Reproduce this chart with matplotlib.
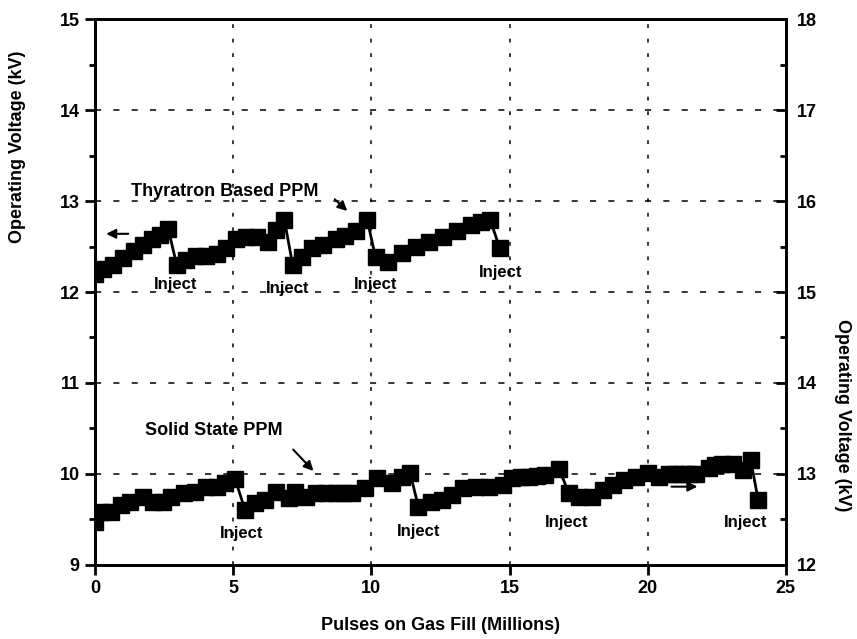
import numpy as np
import matplotlib
matplotlib.use("Agg")
import matplotlib.pyplot as plt

plt.rcParams["font.family"] = ["Liberation Sans", "DejaVu Sans"]

# Thyratron based PPM (left axis, kV)
thy_pulses = [0.0, 0.3, 0.65, 1.0, 1.4, 1.75, 2.05, 2.35, 2.65,
              2.95, 3.3, 3.65, 4.0, 4.4, 4.75, 5.1, 5.45, 5.85, 6.25, 6.55, 6.85,
              7.15, 7.5, 7.85, 8.25, 8.7, 9.05, 9.45, 9.85,
              10.15, 10.6, 11.1, 11.6, 12.1, 12.6, 13.1, 13.6, 13.95, 14.3, 14.65]
thy_kv = [12.20, 12.25, 12.30, 12.37, 12.45, 12.52, 12.58, 12.63, 12.69,
          12.30, 12.35, 12.40, 12.40, 12.42, 12.48, 12.58, 12.60, 12.60, 12.55, 12.68, 12.79,
          12.30, 12.38, 12.48, 12.52, 12.58, 12.62, 12.67, 12.79,
          12.38, 12.33, 12.43, 12.50, 12.55, 12.60, 12.67, 12.74, 12.77, 12.79, 12.48]

# Solid state PPM (right axis, kV)
ss_pulses = [0.0, 0.2, 0.58, 0.95, 1.27, 1.74, 2.1, 2.46, 2.75, 3.2, 3.6, 4.0, 4.4, 4.7, 5.07,
             5.43, 5.8, 6.16, 6.56, 7.0, 7.25, 7.65, 8.0, 8.35, 8.7, 9.0, 9.3, 9.78, 10.2, 10.75, 11.1, 11.4,
             11.7, 12.14, 12.57, 12.93, 13.3, 13.77, 14.24, 14.75, 15.1, 15.4, 15.7, 16.0, 16.3, 16.8,
             17.14, 17.5, 18.0, 18.37, 18.73, 19.13, 19.56, 20.0, 20.4, 20.76, 21.0, 21.27, 21.5, 21.74,
             22.2, 22.45, 22.7, 23.1, 23.44, 23.73, 24.0]
ss_kv = [12.47, 12.58, 12.58, 12.66, 12.69, 12.75, 12.69, 12.69, 12.75, 12.79, 12.80, 12.86, 12.86, 12.90, 12.94,
         12.60, 12.68, 12.71, 12.80, 12.74, 12.80, 12.75, 12.79, 12.79, 12.79, 12.79, 12.79, 12.84, 12.96, 12.90, 12.97, 13.01,
         12.64, 12.69, 12.71, 12.77, 12.84, 12.86, 12.86, 12.88, 12.96, 12.97, 12.97, 12.98, 12.99, 13.05,
         12.79, 12.75, 12.75, 12.82, 12.88, 12.93, 12.97, 13.01, 12.97, 13.00, 13.00, 13.00, 13.00, 13.00,
         13.07, 13.10, 13.11, 13.11, 13.04, 13.15, 12.71]

thy_inject = [(2.9, 12.08), (6.96, 12.04), (10.14, 12.08), (14.67, 12.22)]
ss_inject = [(5.29, 9.35), (11.7, 9.37), (17.07, 9.47), (23.55, 9.47)]

fig = plt.figure(figsize=(8.57, 6.39), dpi=100)
ax = fig.add_axes([0.111, 0.116, 0.806, 0.854])
ax2 = ax.twinx()

ax.plot(thy_pulses, thy_kv, color="k", lw=2, marker="s", ms=11, mec="k", mfc="k")
ax2.plot(ss_pulses, ss_kv, color="k", lw=2, marker="s", ms=11, mec="k", mfc="k")

ax.set_xlim(0, 25)
ax.set_ylim(9, 15)
ax2.set_ylim(12, 18)
ax.set_xticks(np.arange(0, 26, 5))
ax.set_yticks(np.arange(9, 16, 1))
ax.set_yticks(np.arange(9.5, 15, 1), minor=True)
ax2.set_yticks(np.arange(12, 19, 1))
ax2.set_yticks(np.arange(12.5, 18, 1), minor=True)

# dashed grid at the interior ticks
for gx in [5, 10, 15, 20]:
    ax.axvline(gx, color="k", lw=1.1, ls=(0, (2.5, 7)), zorder=0)
for gy in [10, 11, 12, 13, 14]:
    ax.axhline(gy, color="k", lw=1.1, ls=(0, (4, 8)), zorder=0)

for a in (ax, ax2):
    for s in a.spines.values():
        s.set_linewidth(2)
ax.tick_params(axis="both", which="major", direction="out", length=7, width=2, labelsize=13, pad=4)
ax.tick_params(axis="y", which="minor", direction="out", length=4, width=2)
ax2.tick_params(axis="y", which="major", direction="in", length=7, width=2, labelsize=13, pad=8)
ax2.tick_params(axis="y", which="minor", direction="in", length=4, width=2)
for lab in ax.get_xticklabels() + ax.get_yticklabels() + ax2.get_yticklabels():
    lab.set_fontweight("bold")

ax.set_xlabel("Pulses on Gas Fill (Millions)", fontsize=13, fontweight="bold", labelpad=14)
fig.text(0.021, 0.77, "Operating Voltage (kV)", rotation=90, ha="center", va="center",
         fontsize=13, fontweight="bold")
fig.text(0.983, 0.35, "Operating Voltage (kV)", rotation=-90, ha="center", va="center",
         fontsize=13, fontweight="bold")

for x, y in thy_inject + ss_inject:
    ax.text(x, y, "Inject", ha="center", va="center", fontsize=12, fontweight="bold")

ax.text(4.7, 13.11, "Thyratron Based PPM", ha="center", va="center", fontsize=13, fontweight="bold")
ax.text(4.28, 10.48, "Solid State PPM", ha="center", va="center", fontsize=13, fontweight="bold")

arrow = dict(arrowstyle="-|>", color="k", lw=1.5, mutation_scale=14)
ax.annotate("", xy=(9.2, 12.87), xytext=(8.6, 13.04), arrowprops=arrow)
ax.annotate("", xy=(7.97, 10.01), xytext=(7.1, 10.29), arrowprops=arrow)
ax.annotate("", xy=(0.3, 12.64), xytext=(1.3, 12.64), arrowprops=arrow)
ax.annotate("", xy=(21.9, 9.86), xytext=(20.76, 9.86), arrowprops=arrow)

fig.savefig("out.png", dpi=100)
